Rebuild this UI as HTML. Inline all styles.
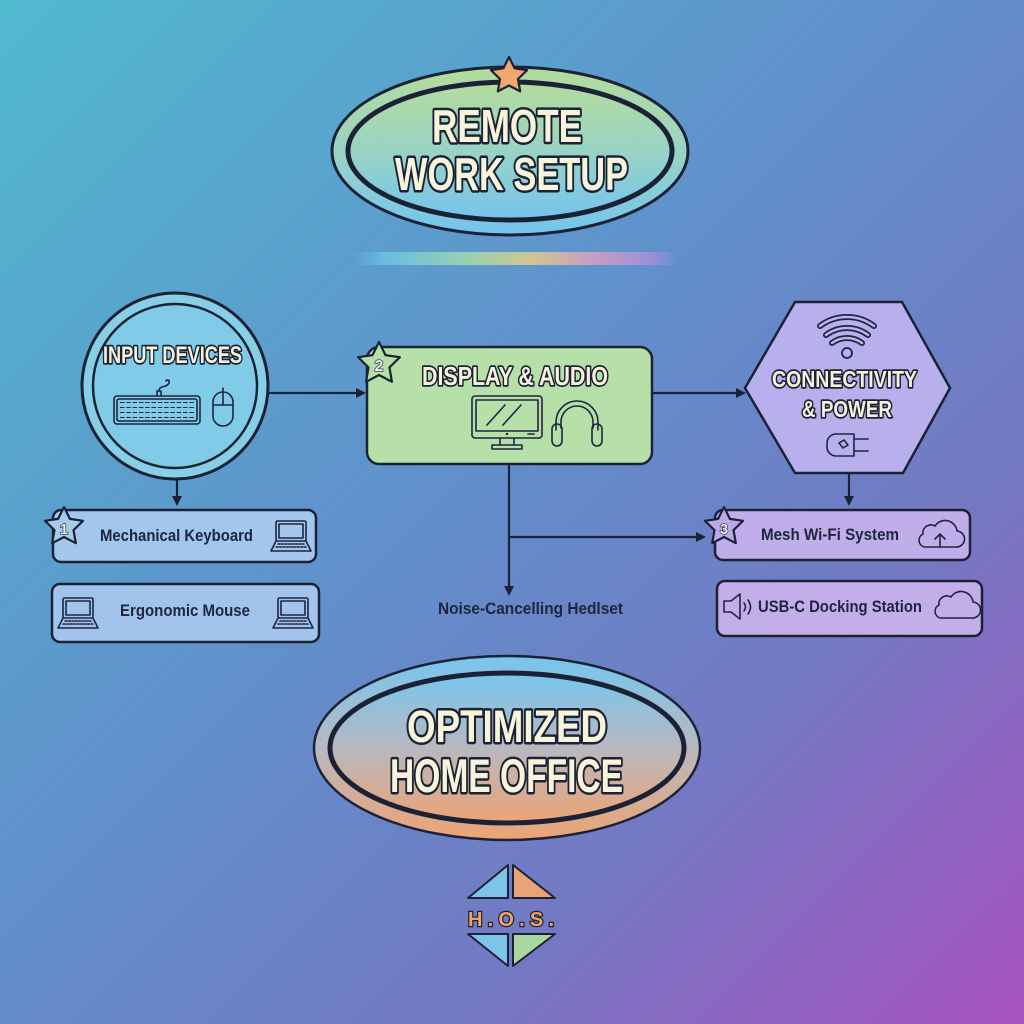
<!DOCTYPE html>
<html><head><meta charset="utf-8"><style>
html,body{margin:0;padding:0;width:1024px;height:1024px;overflow:hidden;}
svg{display:block}
.title{font-family:"Liberation Sans",sans-serif;font-weight:bold;fill:#f8f4dc;stroke:#1c2236;stroke-width:5;paint-order:stroke;stroke-linejoin:round}
.sub{font-family:"Liberation Sans",sans-serif;font-weight:bold;fill:#f6f2dc;stroke:#1c2236;stroke-width:3.5;paint-order:stroke;stroke-linejoin:round}
.lbl{font-family:"Liberation Sans",sans-serif;font-weight:bold;fill:#1e2540;font-size:17px}
.num{font-family:"Liberation Sans",sans-serif;font-weight:bold;fill:#eef2f8;stroke:#1c2236;stroke-width:1.3;paint-order:stroke;text-anchor:middle}
.ic{fill:none;stroke:#1e2540;stroke-width:1.6;stroke-linejoin:round;stroke-linecap:round}
.ln{stroke:#1c2236;stroke-width:2.2;fill:none}
.st{stroke:#1c2236;stroke-width:2.2;stroke-linejoin:round}
</style></head><body>
<svg width="1024" height="1024" viewBox="0 0 1024 1024" xmlns="http://www.w3.org/2000/svg">
<defs>
<linearGradient id="bg" x1="0" y1="0" x2="1" y2="1">
<stop offset="0" stop-color="#50bacf"/>
<stop offset="0.45" stop-color="#6190cb"/>
<stop offset="0.72" stop-color="#7379c3"/>
<stop offset="1" stop-color="#a852be"/>
</linearGradient>
<linearGradient id="topE" x1="0" y1="0" x2="0" y2="1">
<stop offset="0" stop-color="#b4dc9c"/>
<stop offset="0.55" stop-color="#96d2c8"/>
<stop offset="1" stop-color="#74c4ee"/>
</linearGradient>
<linearGradient id="botE" x1="0" y1="0" x2="0" y2="1">
<stop offset="0" stop-color="#76c6ee"/>
<stop offset="0.5" stop-color="#b8b8c0"/>
<stop offset="1" stop-color="#eca474"/>
</linearGradient>
<linearGradient id="rb" x1="0" y1="0" x2="1" y2="0">
<stop offset="0" stop-color="#62b8e0" stop-opacity="0"/>
<stop offset="0.1" stop-color="#68bfe2"/>
<stop offset="0.35" stop-color="#9ad4b0"/>
<stop offset="0.55" stop-color="#d6c88e"/>
<stop offset="0.75" stop-color="#cc9cc4"/>
<stop offset="0.92" stop-color="#9c90da"/>
<stop offset="1" stop-color="#9c90da" stop-opacity="0"/>
</linearGradient>
<g id="laptop">
<rect x="5" y="0" width="30" height="20" rx="1.5" class="ic"/>
<rect x="8" y="3" width="24" height="14" class="ic" stroke-width="1"/>
<path d="M5,20 L0,30 L40,30 L35,20" class="ic"/>
<path d="M7,23 H33 M5,26 H35" class="ic" stroke-width="1" stroke-dasharray="2 1.5"/>
</g>
</defs>
<rect width="1024" height="1024" fill="url(#bg)"/>

<!-- top title ellipse -->
<ellipse cx="510" cy="151" rx="178" ry="84" fill="url(#topE)" stroke="#1c2236" stroke-width="3"/>
<ellipse cx="510" cy="151" rx="162" ry="69" fill="url(#topE)" stroke="#1c2236" stroke-width="5"/>
<polygon class="st" fill="#f0a86c" points="509,57 514.6,68.3 527.1,70.1 518,79 520.2,91.4 509,85.5 497.8,91.4 500,79 490.9,70.1 503.4,68.3"/>
<text class="title" x="432" y="142" font-size="46" textLength="150" lengthAdjust="spacingAndGlyphs">REMOTE</text>
<text class="title" x="395" y="190" font-size="46" textLength="233" lengthAdjust="spacingAndGlyphs">WORK SETUP</text>

<!-- rainbow bar -->
<rect x="352" y="252" width="326" height="13" fill="url(#rb)" opacity="0.95"/>

<!-- connectors -->
<line class="ln" x1="268" y1="393" x2="358" y2="393"/>
<path d="M366,393 L356,388 L356,398 Z" fill="#1c2236"/>
<line class="ln" x1="177" y1="478" x2="177" y2="498"/>
<path d="M177,506 L172,496 L182,496 Z" fill="#1c2236"/>
<line class="ln" x1="652" y1="393" x2="738" y2="393"/>
<path d="M746,393 L736,388 L736,398 Z" fill="#1c2236"/>
<line class="ln" x1="849" y1="473" x2="849" y2="498"/>
<path d="M849,506 L844,496 L854,496 Z" fill="#1c2236"/>
<line class="ln" x1="509" y1="463" x2="509" y2="588"/>
<path d="M509,596 L504,586 L514,586 Z" fill="#1c2236"/>
<line class="ln" x1="509" y1="537" x2="698" y2="537"/>
<path d="M706,537 L696,532 L696,542 Z" fill="#1c2236"/>

<!-- input devices circle -->
<circle cx="175" cy="386" r="93" fill="#86cfe6" stroke="#1c2236" stroke-width="3"/>
<circle cx="175" cy="386" r="82" fill="#80cbe8" stroke="#1c2236" stroke-width="2.5"/>
<text class="sub" x="103" y="363" font-size="24" textLength="139" lengthAdjust="spacingAndGlyphs">INPUT DEVICES</text>
<!-- keyboard -->
<rect x="114" y="396" width="86" height="28" rx="3" class="ic"/>
<rect x="117" y="399" width="80" height="22" rx="2" class="ic" stroke-width="1"/>
<g fill="none" stroke="#1e2540" stroke-width="1.1">
<path d="M120,402.5 h74 M120,407.5 h74 M120,412.5 h74 M120,417.5 h74" stroke-dasharray="4.5 1.8"/>
</g>
<path d="M157,396 v-5 h4 v5 M159,391 c0,-6 8,-3 10,-8 c1,-3 -2,-4 -3,-2" class="ic"/>
<!-- mouse -->
<rect x="213" y="392" width="20" height="34" rx="10" class="ic"/>
<path d="M213,405 h20 M223,392 v13" class="ic" stroke-width="1.2"/>
<path d="M223,388 v4" class="ic"/>

<!-- mechanical keyboard box -->
<rect x="53" y="510" width="263" height="52" rx="8" fill="#a2c6ec" stroke="#1c2236" stroke-width="2.5"/>
<polygon class="st" fill="#a6cde8" points="64,507 69.9,518.9 83,520.8 73.5,530.1 75.8,543.2 64,537 52.2,543.2 54.5,530.1 45,520.8 58.1,518.9"/>
<text class="num" x="64" y="534" font-size="15">1</text>
<text class="lbl" x="100" y="541" textLength="153" lengthAdjust="spacingAndGlyphs">Mechanical Keyboard</text>
<use href="#laptop" transform="translate(271,521)"/>

<!-- ergonomic mouse box -->
<rect x="52" y="584" width="267" height="58" rx="8" fill="#a2c4ec" stroke="#1c2236" stroke-width="2.5"/>
<use href="#laptop" transform="translate(58,598)"/>
<text class="lbl" x="120" y="616" textLength="130" lengthAdjust="spacingAndGlyphs">Ergonomic Mouse</text>
<use href="#laptop" transform="translate(273,598)"/>

<!-- display & audio -->
<rect x="367" y="347" width="285" height="117" rx="12" fill="#b6e0a8" stroke="#1c2236" stroke-width="2.5"/>
<polygon class="st" fill="#b4e0a4" points="379,342 385.5,355.1 399.9,357.2 389.5,367.4 391.9,381.8 379,375 366.1,381.8 368.5,367.4 358.1,357.2 372.5,355.1"/>
<text class="num" x="379" y="371" font-size="16">2</text>
<text class="sub" x="422" y="385" font-size="26" textLength="186" lengthAdjust="spacingAndGlyphs">DISPLAY &amp; AUDIO</text>
<!-- monitor -->
<rect x="472" y="396" width="70" height="42" rx="3" class="ic"/>
<rect x="476" y="400" width="62" height="31" class="ic" stroke-width="1.1"/>
<path d="M487,425 L505,405 M503,425 L521,405" class="ic" stroke-width="1.2"/>
<circle cx="507" cy="434" r="1.2" fill="#1e2540"/>
<path d="M528,434 h6" class="ic"/>
<path d="M500,438 v7 M514,438 v7 M492,445 h30 v4 h-30 z" class="ic"/>
<!-- headphones -->
<path d="M556,430 v-8 a21,21 0 0 1 42,0 v8" class="ic"/>
<path d="M561,428 v-6 a16,16 0 0 1 32,0 v6" class="ic" stroke-width="1.2"/>
<rect x="552" y="424" width="10" height="22" rx="5" class="ic"/>
<rect x="592" y="424" width="10" height="22" rx="5" class="ic"/>

<text class="lbl" x="438" y="614" textLength="185" lengthAdjust="spacingAndGlyphs">Noise-Cancelling Hedlset</text>

<!-- hexagon -->
<polygon points="795,302 902,302 950,388 903,473 795,473 745,388" fill="#b8b0ec" stroke="#1c2236" stroke-width="2.5"/>
<g fill="none" stroke-linecap="round">
<path d="M820,326 A45,45 0 0 1 874,326" stroke="#1e2540" stroke-width="6"/>
<path d="M820,326 A45,45 0 0 1 874,326" stroke="#bcb4ee" stroke-width="2.5"/>
<path d="M826,335 A35,35 0 0 1 868,335" stroke="#1e2540" stroke-width="6"/>
<path d="M826,335 A35,35 0 0 1 868,335" stroke="#bcb4ee" stroke-width="2.5"/>
<path d="M832,343 A25,25 0 0 1 862,343" stroke="#1e2540" stroke-width="6"/>
<path d="M832,343 A25,25 0 0 1 862,343" stroke="#bcb4ee" stroke-width="2.5"/>
</g>
<circle cx="847" cy="353" r="5" fill="none" stroke="#1e2540" stroke-width="1.8"/>
<text class="sub" x="772" y="387" font-size="23" textLength="145" lengthAdjust="spacingAndGlyphs">CONNECTIVITY</text>
<text class="sub" x="802" y="417" font-size="23" textLength="90" lengthAdjust="spacingAndGlyphs">&amp; POWER</text>
<!-- plug -->
<path d="M836,434 h18 v22 h-18 a9,9 0 0 1 -9,-9 v-4 a9,9 0 0 1 9,-9 z" class="ic"/>
<path d="M854,439 h14 M854,451 h14" class="ic" stroke-width="2"/>
<path d="M839,443 l5,-3 l4,5 l-5,3 z" class="ic" stroke-width="1.2"/>

<!-- mesh wifi box -->
<rect x="715" y="510" width="255" height="50" rx="8" fill="#c0aeea" stroke="#1c2236" stroke-width="2.5"/>
<polygon class="st" fill="#bcaae8" points="724,507 729.9,518.9 743,520.8 733.5,530.1 735.8,543.2 724,537 712.2,543.2 714.5,530.1 705,520.8 718.1,518.9"/>
<text class="num" x="724" y="534" font-size="15">3</text>
<text class="lbl" x="761" y="540" textLength="138" lengthAdjust="spacingAndGlyphs">Mesh Wi-Fi System</text>
<path d="M924,547 h32 a8,8 0 0 0 1,-16 a12,12 0 0 0 -22,-5 a8,8 0 0 0 -12,8 a7,7 0 0 0 1,13 z" class="ic"/>
<path d="M940,547 v-12 M935,539 l5,-5 l5,5" class="ic"/>

<!-- usb-c box -->
<rect x="717" y="581" width="265" height="55" rx="8" fill="#c4aeea" stroke="#1c2236" stroke-width="2.5"/>
<path d="M724,601 h7 l9,-7 v25 l-9,-7 h-7 z" class="ic"/>
<path d="M744,603 q3,4 0,8 M748,600 q5,7 0,14" class="ic" stroke-width="1.3"/>
<text class="lbl" x="758" y="612" textLength="164" lengthAdjust="spacingAndGlyphs">USB-C Docking Station</text>
<path d="M940,618 h32 a8,8 0 0 0 1,-16 a12,12 0 0 0 -22,-5 a8,8 0 0 0 -12,8 a7,7 0 0 0 1,13 z" class="ic"/>

<!-- bottom ellipse -->
<ellipse cx="507" cy="748" rx="193" ry="92" fill="url(#botE)" stroke="#1c2236" stroke-width="2.5"/>
<ellipse cx="507" cy="748" rx="177" ry="75" fill="url(#botE)" stroke="#1c2236" stroke-width="5"/>
<text class="title" x="407" y="742" font-size="45" textLength="200" lengthAdjust="spacingAndGlyphs">OPTIMIZED</text>
<text class="title" x="390" y="792" font-size="47" textLength="233" lengthAdjust="spacingAndGlyphs">HOME OFFICE</text>

<!-- logo -->
<g stroke="#1c2236" stroke-width="2" stroke-linejoin="round">
<polygon points="468,898 508,865 508,898" fill="#7cc4e8"/>
<polygon points="513,865 555,898 513,898" fill="#e8a476"/>
<polygon points="468,934 508,934 508,966" fill="#7cc4e8"/>
<polygon points="513,934 555,934 513,966" fill="#a8d8a0"/>
</g>
<text x="511" y="926" font-family="Liberation Sans,sans-serif" font-weight="bold" font-size="20" fill="#eea462" stroke="#1c2236" stroke-width="2.4" paint-order="stroke" text-anchor="middle" textLength="86" lengthAdjust="spacing">H.O.S.</text>
</svg>
</body></html>
